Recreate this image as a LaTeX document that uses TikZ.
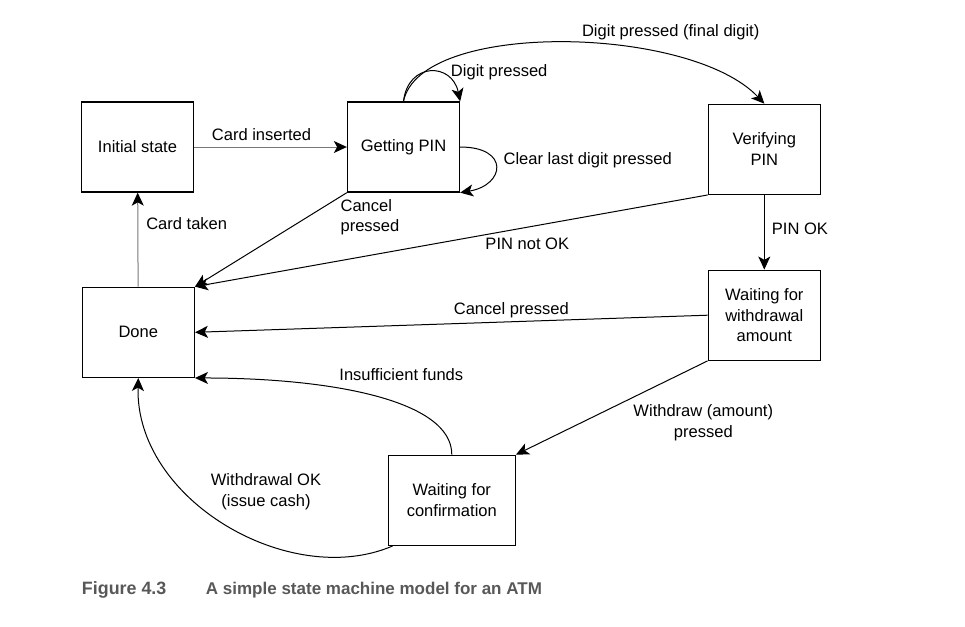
\documentclass[tikz,border=0pt]{standalone}
\usepackage{fontspec}
\setmainfont{Liberation Sans}
\usetikzlibrary{arrows.meta}
\definecolor{capgray}{RGB}{88,88,88}
\definecolor{linegray}{RGB}{120,120,120}

\begin{document}
\begin{tikzpicture}[x=0.75pt,y=-0.75pt,
    font=\fontsize{12.4}{15.5}\selectfont,
    state/.style={draw,line width=1pt,minimum width=84pt,minimum height=67.5pt,inner sep=0pt,align=center},
    lbl/.style={inner sep=0pt},
    caplbl/.style={lbl,anchor=base west,text=capgray},
    tr/.style={line width=0.75pt,-{Stealth[length=9.75pt,width=9pt,inset=2.5pt]}},
    trgray/.style={tr,draw=linegray,-{Stealth[length=9.75pt,width=9pt,inset=2.5pt,color=black]}}]
  \useasboundingbox (0,0) rectangle (965,626);
  \node[state] (init) at (137.5,147) {Initial state};
  \node[state] (gp) at (403.5,147) {Getting PIN};
  \node[state] (vp) at (764.3,149.3) {Verifying\\PIN};
  \node[state] (done) at (138.3,332.3) {Done};
  \node[state] (wa) at (764.3,315.2) {Waiting for\\withdrawal\\amount};
  \node[state,minimum width=95.25pt] (wc) at (451.8,500.3) {Waiting for\\confirmation};
  \draw[trgray] (init) -- (gp);
  \draw[trgray] (done) -- (init);
  \draw[tr] (gp.north) .. controls (408,62) and (452,62) .. (gp.north east);
  \draw[tr] (gp.north) .. controls (420,20) and (690,25) .. (vp.north);
  \draw[tr] (gp.east) .. controls (510,147) and (505,185) .. (gp.south east);
  \draw[tr] (gp.south west) -- (done.north east);
  \draw[tr] (vp.south west) -- (done.north east);
  \draw[tr] (vp) -- (wa);
  \draw[tr] (wa.west) -- (done.east);
  \draw[tr] (wa.south west) -- (wc.north east);
  \draw[tr] (wc.north) .. controls (452,400) and (330,378) .. (done.south east);
  \draw[tr] ([xshift=3.75pt]wc.south west) .. controls (290,590) and (135,500) .. (done.south);
  \node[lbl] (lcard) at (261.5,134.3) {Card inserted};
  \node[lbl,anchor=west] (ltaken) at (146,223.3) {Card taken};
  \node[lbl,anchor=west] (ldigit) at (450.7,71.75) {Digit pressed};
  \node[lbl] (lfinal) at (670.7,31.75) {Digit pressed (final digit)};
  \node[lbl,anchor=west] (lclear) at (503.3,159.75) {Clear last digit pressed};
  \node[lbl,anchor=west,align=left] (lcancelgp) at (340.3,217.1) {Cancel\\pressed};
  \node[lbl] (lnotok) at (527.3,244) {PIN not OK};
  \node[lbl,anchor=west] (lok) at (771.7,229) {PIN OK};
  \node[lbl] (lcancelwa) at (511.3,310.25) {Cancel pressed};
  \node[lbl,align=center] (lwithdraw) at (703.3,422.5) {Withdraw (amount)\\pressed};
  \node[lbl] (lfunds) at (401.3,375) {Insufficient funds};
  \node[lbl,align=center] (lcash) at (266,491.75) {Withdrawal OK\\(issue cash)};
  \node[caplbl,font=\fontsize{13.4}{15}\selectfont\bfseries] (capnum) at (81.7,594.5) {Figure 4.3};
  \node[caplbl,font=\fontsize{12.75}{15}\selectfont\bfseries] (captext) at (205.7,594.5) {A simple state machine model for an ATM};
\end{tikzpicture}
\end{document}
